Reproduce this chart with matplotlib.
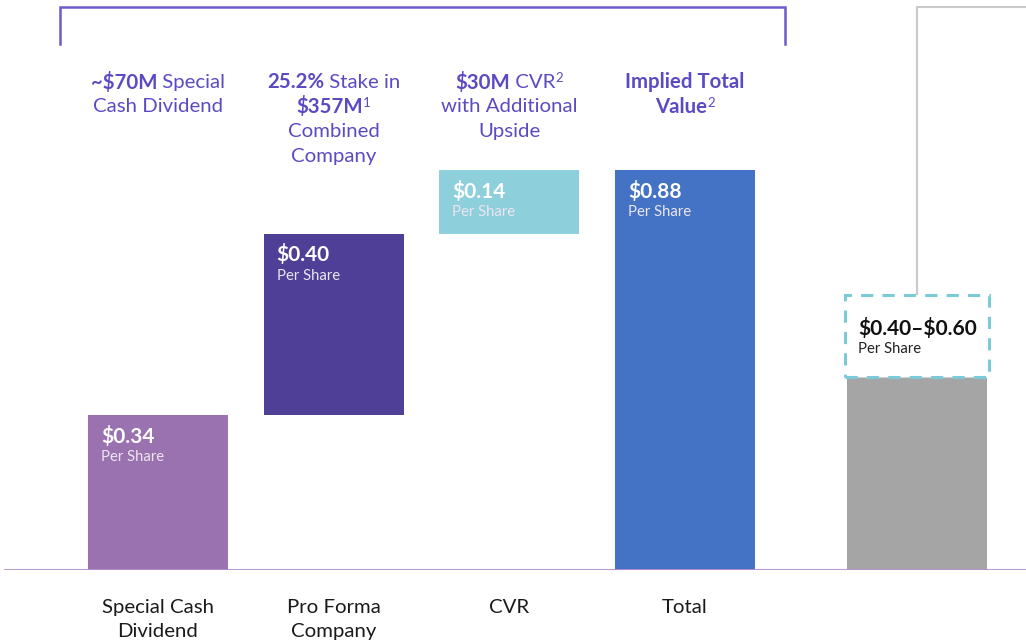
import matplotlib
matplotlib.use("Agg")
import matplotlib.pyplot as plt
from matplotlib.patches import Rectangle

plt.rcParams['font.family'] = ['Lato', 'DejaVu Sans']
plt.rcParams['text.parse_math'] = False

# ---- data ----
categories = ['Special Cash\nDividend', 'Pro Forma\nCompany', 'CVR', 'Total']
values = [0.34, 0.40, 0.14, 0.88]
value_labels = ['$0.34', '$0.40', '$0.14', '$0.88']
gray_value = 0.425
range_low, range_high = 0.425, 0.605
range_label = '$0.40–$0.60'
per_share = 'Per Share'

# headers: list of lines, each a list of (text, bold, superscript)
headers = [
    [[('~$70M', True, False), (' Special', False, False)],
     [('Cash Dividend', False, False)]],
    [[('25.2%', True, False), (' Stake in', False, False)],
     [('$357M', True, False), ('1', False, True)],
     [('Combined', False, False)],
     [('Company', False, False)]],
    [[('$30M', True, False), (' CVR', False, False), ('2', False, True)],
     [('with Additional', False, False)],
     [('Upside', False, False)]],
    [[('Implied Total', True, False)],
     [('Value', True, False), ('2', False, True)]],
]

bar_colors = ['#9b72b0', '#4f3f96', '#8ecfdc', '#4472c4']
gray_color = '#a5a5a5'
purple_text = '#5a4bc4'

W, H = 1026, 644
fig = plt.figure(figsize=(W / 100, H / 100), dpi=100)
fig.patch.set_facecolor('white')

base_px = 570
px_per_unit = 454.5
ax = fig.add_axes([0, (H - base_px) / H, 1, base_px / H])
ax.set_ylim(0, base_px / px_per_unit)
step = 175.7
x0 = 158
ax.set_xlim(-x0 / step, (W - x0) / step)
for s in ax.spines.values():
    s.set_visible(False)
ax.set_yticks([])
ax.patch.set_alpha(0)

positions = [0, 1, 2, 3]
gray_pos = 4.32
bw = 140 / step

# waterfall bottoms
bottoms = [0, values[0], values[0] + values[1], 0]
ax.bar(positions, values, bottom=bottoms, width=bw, color=bar_colors, zorder=2)
ax.bar([gray_pos], [gray_value], width=bw, color=gray_color, zorder=2)
ax.add_patch(Rectangle((gray_pos - bw / 2 - 0.01, range_low), bw + 0.02, range_high - range_low,
                       facecolor='white', edgecolor='#7ccad8', lw=2.2,
                       linestyle=(0, (4, 3)), zorder=3))

ax.axhline(0, xmin=5 / W, xmax=1, color='#b48fd0', lw=2, zorder=4)

ax.set_xticks(positions)
ax.set_xticklabels(categories, fontsize=14.7, color='#1a1a1a', linespacing=1.48)
ax.tick_params(axis='x', length=0, pad=21)

# bar value labels
for p, v, b, lab in zip(positions, values, bottoms, value_labels):
    top = v + b
    ax.annotate(lab, xy=(p - bw / 2, top), xytext=(13, -21), textcoords='offset pixels',
                color='white', fontsize=15, fontweight='bold', va='center', ha='left')
    ax.annotate(per_share, xy=(p - bw / 2, top), xytext=(13, -42), textcoords='offset pixels',
                color='#ece6f2', fontsize=10.7, va='center', ha='left')
ax.annotate(range_label, xy=(gray_pos - bw / 2, range_high), xytext=(11, -33),
            textcoords='offset pixels', color='#111111', fontsize=15, fontweight='bold',
            va='center', ha='left', zorder=5)
ax.annotate(per_share, xy=(gray_pos - bw / 2, range_high), xytext=(11, -54),
            textcoords='offset pixels', color='#222222', fontsize=10.7,
            va='center', ha='left', zorder=5)

# overlay in pixel coordinates for decorations
ov = fig.add_axes([0, 0, 1, 1])
ov.set_xlim(0, W)
ov.set_ylim(H, 0)
ov.axis('off')
ov.patch.set_alpha(0)

ov.plot([60, 60, 785, 785], [44, 7, 7, 44], color='#6a5ccc', lw=1.8, solid_joinstyle='miter')
ov.plot([917, 917, W], [294, 7, 7], color='#c9c9c9', lw=1.5, solid_joinstyle='miter')

renderer = fig.canvas.get_renderer()
line_y0 = 82
line_dy = 24.7
for i, lines in enumerate(headers):
    xc = x0 + step * i
    for j, pieces in enumerate(lines):
        y = line_y0 + line_dy * j
        objs = []
        for txt, bold, sup in pieces:
            if sup:
                t = ov.text(0, y - 4, txt, fontsize=9.5, color=purple_text, va='center', ha='left')
            else:
                t = ov.text(0, y, txt, fontsize=14.7, color=purple_text,
                            fontweight='bold' if bold else 'normal', va='center', ha='left')
            objs.append(t)
        widths = [o.get_window_extent(renderer).width for o in objs]
        total = sum(widths)
        x = xc - total / 2
        for o, w in zip(objs, widths):
            o.set_x(x)
            x += w

fig.savefig('out.png', dpi=100, facecolor='white')
